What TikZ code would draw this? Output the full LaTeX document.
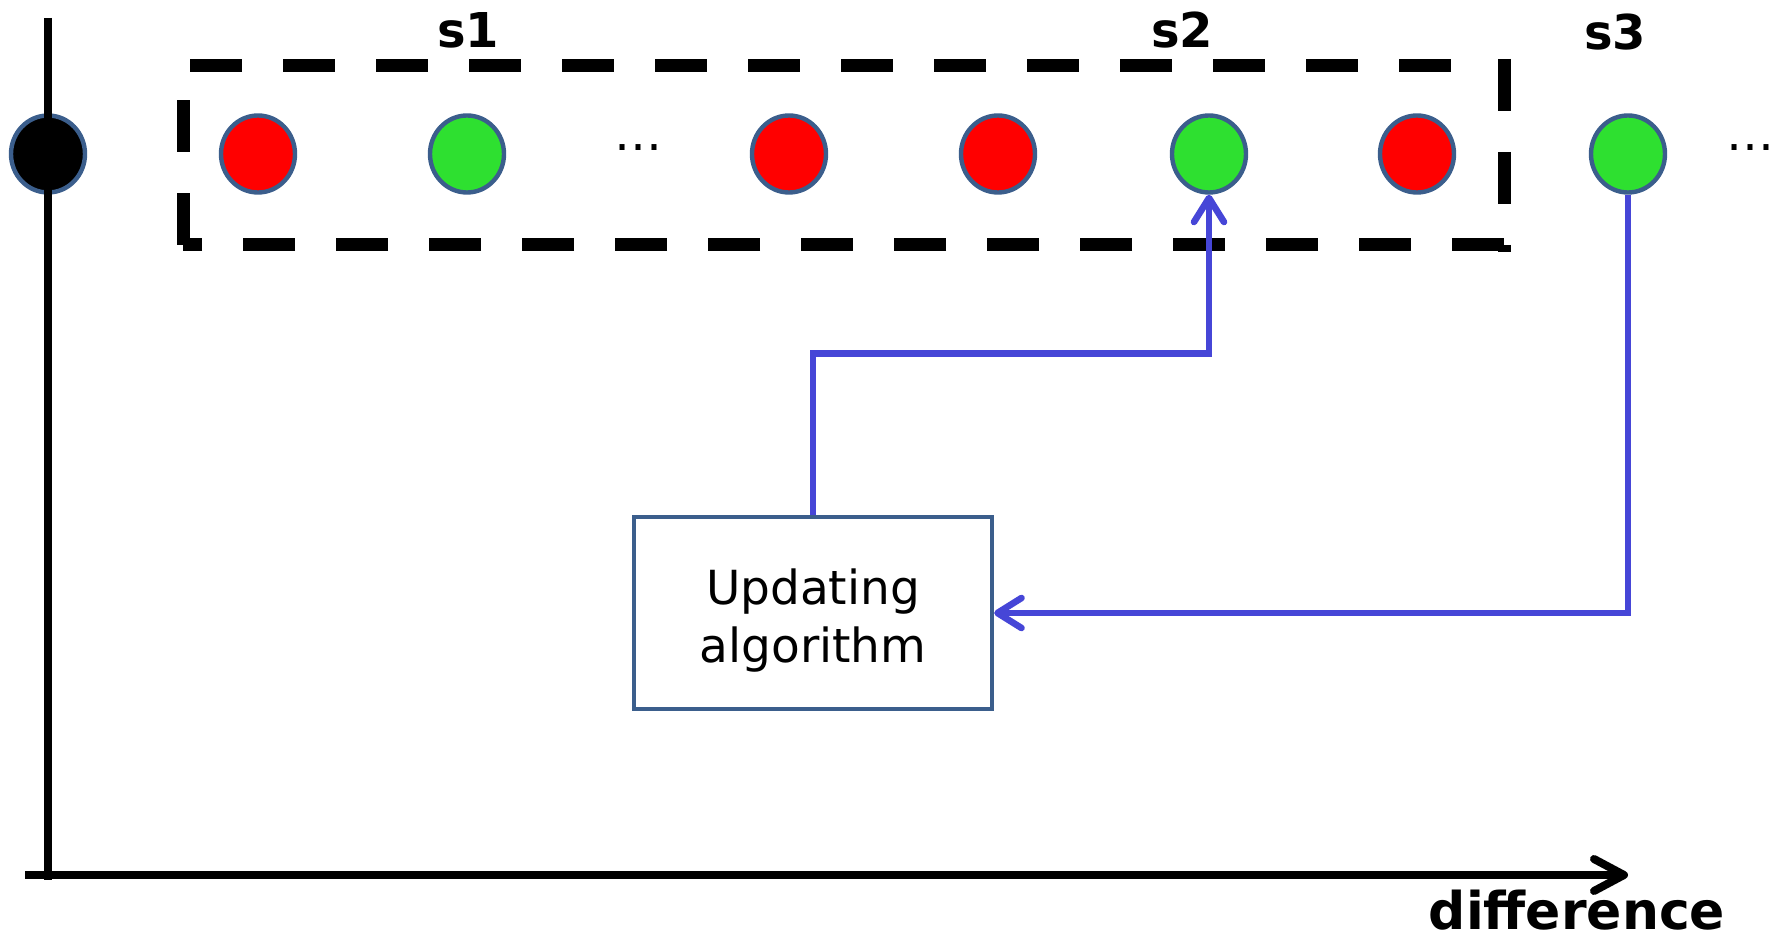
\documentclass[tikz,border=0pt]{standalone}
\usepackage{fontspec}
\setmainfont{DejaVu Sans}
\usetikzlibrary{arrows.meta,shapes.geometric}
\definecolor{ringc}{RGB}{59,94,140}
\definecolor{redc}{RGB}{255,0,0}
\definecolor{greenc}{RGB}{46,224,48}
\definecolor{flowc}{RGB}{70,70,215}
\tikzset{
  dot/.style={ellipse, draw=ringc, line width=2.2pt, minimum width=37pt, minimum height=38.5pt, inner sep=0pt},
  reddot/.style={dot, fill=redc},
  greendot/.style={dot, fill=greenc},
  blackdot/.style={dot, fill=black},
  dashline/.style={line width=6.5pt, dash pattern=on 26pt off 20.5pt},
  axisline/.style={line width=4pt, black},
  flow/.style={line width=3.3pt, flowc, -{Straight Barb[length=12pt,width=15pt,round]}},
  slabel/.style={font=\fontsize{24pt}{28pt}\selectfont\bfseries, anchor=base, inner sep=0pt},
  dots/.style={font=\fontsize{24pt}{28pt}\selectfont, inner sep=0pt},
  algbox/.style={draw=ringc, line width=2.2pt, minimum width=179pt, minimum height=96pt, align=center, font=\fontsize{23.5pt}{29pt}\selectfont}
}
\begin{document}
\begin{tikzpicture}[x=0.5pt,y=-0.5pt]
\useasboundingbox (0,0) rectangle (1785,940);
% dashed box
\draw[dashline] (183,245) -- (183,66);
\draw[dashline] (1504,245) -- (183,245);
\draw[dashline] (1504,59) -- (1504,252);
\draw[dashline] (190,66) -- (1460,66);
% dots
\node[blackdot] (b0) at (48,154) {};
\node[reddot] (r1) at (258,154) {};
\node[greendot] (g1) at (467,154) {};
\node[dots] (e1) at (638,148) {…};
\node[reddot] (r2) at (789,154) {};
\node[reddot] (r3) at (998,154) {};
\node[greendot] (g2) at (1209,154) {};
\node[reddot] (r4) at (1417,154) {};
\node[greendot] (g3) at (1628,154) {};
\node[dots] (e2) at (1750,148) {…};
% labels
\node[slabel] (s1) at (468,48) {s1};
\node[slabel] (s2) at (1182,48) {s2};
\node[slabel] (s3) at (1615,50) {s3};
% axes
\coordinate (vtop) at (48,18);
\coordinate (vbot) at (48,880);
\coordinate (hleft) at (25,875);
\coordinate (hright) at (1628,875);
\draw[axisline] (vtop) -- (vbot);
\draw[axisline, -{Straight Barb[length=15pt,width=16pt,round]}] (hleft) -- (hright);
\node[font=\fontsize{26pt}{28pt}\selectfont\bfseries, anchor=base, inner sep=0pt] (diff) at (1577,929) {difference};
% box
\node[algbox] (upd) at (813,613) {\rule{0pt}{25pt}Updating\\algorithm};
% flows
\draw[flow] (upd.north) -- ++(0,-161) -| (g2.south);
\draw[flow] (g3.south) |- (upd.east);
\end{tikzpicture}
\end{document}
